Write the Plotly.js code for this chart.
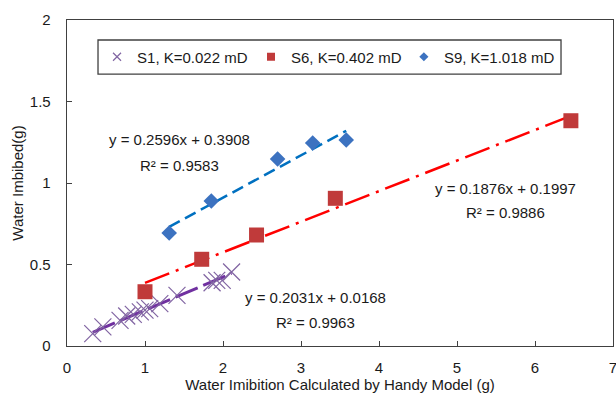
<!DOCTYPE html>
<html>
<head>
<meta charset="utf-8">
<script src="https://cdn.plot.ly/plotly-3.0.1.min.js"></script>
<style>html,body{margin:0;padding:0;background:#fff;}#chart{width:616px;height:393px;}</style>
</head>
<body>
<div id="chart"></div>
<script>
// ---- data ----
var s1Name = 'S1, K=0.022 mD';
var s1X = [0.33, 0.46, 0.68, 0.765, 0.85, 0.94, 1.0, 1.06, 1.19, 1.41, 1.86, 1.92, 1.99, 2.11];
var s1Y = [0.076, 0.117, 0.157, 0.184, 0.194, 0.209, 0.22, 0.229, 0.260, 0.311, 0.388, 0.403, 0.403, 0.454];

var s6Name = 'S6, K=0.402 mD';
var s6X = [1.0, 1.727, 2.43, 3.44, 6.46];
var s6Y = [0.333, 0.532, 0.681, 0.906, 1.382];

var s9Name = 'S9, K=1.018 mD';
var s9X = [1.31, 1.85, 2.70, 3.15, 3.58];
var s9Y = [0.693, 0.89, 1.147, 1.245, 1.264];

// linear trend lines (slope, intercept, R²) as shown on the chart
var fitSlope = [0.2031, 0.1876, 0.2596];
var fitIntercept = [0.0168, 0.1997, 0.3908];
var fitR2 = ['0.9963', '0.9886', '0.9583'];

var xTicks = [0, 1, 2, 3, 4, 5, 6, 7];
var yTicks = [0, 0.5, 1, 1.5, 2];
var yTickText = ['0', '0.5', '1', '1.5', '2'];

var FONT = 'Liberation Sans, Arial, sans-serif';
var TXT = '#1a1a1a';
var FS = 15;

function fitLine(xs, i) {
  var lo = Math.min.apply(null, xs), hi = Math.max.apply(null, xs);
  return {x: [lo, hi], y: [fitSlope[i] * lo + fitIntercept[i], fitSlope[i] * hi + fitIntercept[i]]};
}
function eqText(i) {
  return 'y = ' + fitSlope[i] + 'x + ' + fitIntercept[i];
}

var f1 = fitLine(s1X, 0), f6 = fitLine(s6X, 1), f9 = fitLine(s9X, 2);

var traces = [
  {x: f1.x, y: f1.y, mode: 'lines', showlegend: false, hoverinfo: 'skip',
   line: {color: '#7030A0', width: 3, dash: '24px,6px'}},
  {x: f6.x, y: f6.y, mode: 'lines', showlegend: false, hoverinfo: 'skip',
   line: {color: '#FF0000', width: 2.5, dash: '26px,7px,3px,7px'}},
  {x: f9.x, y: f9.y, mode: 'lines', showlegend: false, hoverinfo: 'skip',
   line: {color: '#0070C0', width: 2.5, dash: '12px,6px'}},
  {x: s1X, y: s1Y, mode: 'markers', name: s1Name, showlegend: false,
   marker: {symbol: 'x-thin-open', size: 17, color: '#8064A2', line: {color: '#8064A2', width: 1.2}}},
  {x: s6X, y: s6Y, mode: 'markers', name: s6Name, showlegend: false,
   marker: {symbol: 'square', size: 15, color: '#C03A3A'}},
  {x: s9X, y: s9Y, mode: 'markers', name: s9Name, showlegend: false,
   marker: {symbol: 'diamond', size: 12, color: '#3C72C0'}},
  // legend entries (small symbols as in the reference legend)
  {x: [null], y: [null], mode: 'markers', name: s1Name, legend: 'legend',
   marker: {symbol: 'x-thin-open', size: 8, color: '#8064A2', line: {color: '#8064A2', width: 1.2}}},
  {x: [null], y: [null], mode: 'markers', name: s6Name, legend: 'legend2',
   marker: {symbol: 'square', size: 8, color: '#C03A3A'}},
  {x: [null], y: [null], mode: 'markers', name: s9Name, legend: 'legend3',
   marker: {symbol: 'diamond', size: 7, color: '#3C72C0'}}
];

var legBase = {orientation: 'h', yanchor: 'middle', y: 0.8865, xanchor: 'left',
  bgcolor: 'rgba(0,0,0,0)', borderwidth: 0, font: {family: FONT, size: FS, color: TXT}};

var annFont = {family: FONT, size: FS, color: TXT};
function ann(x, y, t) {
  return {x: x, y: y, xref: 'x', yref: 'y', text: t, showarrow: false, font: annFont,
          xanchor: 'center', yanchor: 'middle'};
}

var layout = {
  width: 616, height: 393,
  margin: {l: 67, r: 3, t: 20, b: 47},
  paper_bgcolor: '#fff', plot_bgcolor: '#fff',
  font: {family: FONT, size: FS, color: TXT},
  xaxis: {
    range: [0, 7], tickvals: xTicks, ticks: 'inside', ticklen: 5, tickcolor: '#404040',
    showline: true, mirror: true, linecolor: '#404040', linewidth: 1.3,
    showgrid: false, zeroline: false, ticklabelstandoff: 8, ticklabeloverflow: 'allow',
    tickfont: {family: FONT, size: FS, color: TXT},
    title: {text: 'Water Imibition Calculated by Handy Model (g)', standoff: 3,
            font: {family: FONT, size: FS, color: TXT}}
  },
  yaxis: {
    range: [0, 2], tickvals: yTicks, ticktext: yTickText, ticks: 'inside', ticklen: 5, tickcolor: '#404040',
    showline: true, mirror: true, linecolor: '#404040', linewidth: 1.3,
    showgrid: false, zeroline: false, ticklabelstandoff: 12, ticklabeloverflow: 'allow',
    tickfont: {family: FONT, size: FS, color: TXT},
    title: {text: 'Water Imbibed(g)', standoff: 2, font: {family: FONT, size: FS, color: TXT}}
  },
  legend: Object.assign({}, legBase, {x: 0.055}),
  legend2: Object.assign({}, legBase, {x: 0.337}),
  legend3: Object.assign({}, legBase, {x: 0.617}),
  shapes: [
    {type: 'rect', xref: 'paper', yref: 'paper', x0: 0.0568, x1: 0.9048, y0: 0.834, y1: 0.9387,
     line: {color: '#404040', width: 1.3}, fillcolor: 'rgba(0,0,0,0)'}
  ],
  annotations: [
    ann(1.436, 1.264, eqText(2)), ann(1.436, 1.110, 'R² = ' + fitR2[2]),
    ann(5.62, 0.969, eqText(1)), ann(5.62, 0.816, 'R² = ' + fitR2[1]),
    ann(3.19, 0.300, eqText(0)), ann(3.19, 0.147, 'R² = ' + fitR2[0])
  ]
};

Plotly.newPlot('chart', traces, layout, {displayModeBar: false, staticPlot: true});
</script>
</body>
</html>
